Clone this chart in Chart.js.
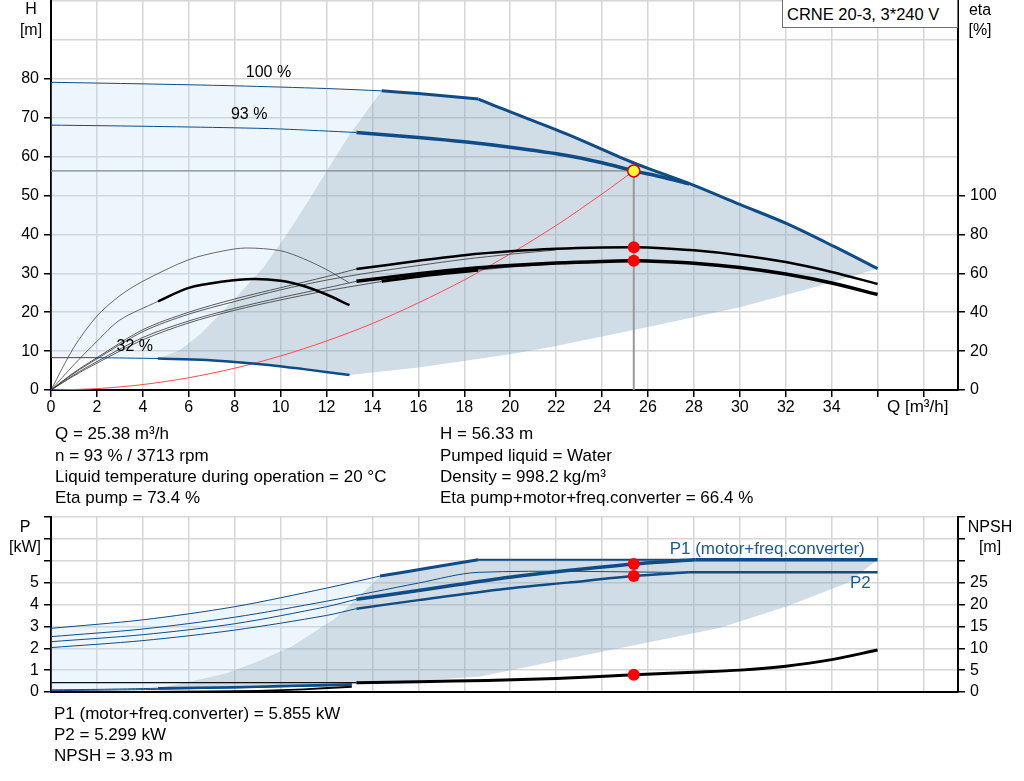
<!DOCTYPE html>
<html>
<head>
<meta charset="utf-8">
<script src="https://cdn.jsdelivr.net/npm/chart.js@4.4.1/dist/chart.umd.min.js"></script>
<style>
  html, body { margin: 0; padding: 0; background: #fff; }
  body { width: 1024px; height: 781px; position: relative; overflow: hidden;
         font-family: "Liberation Sans", Arial, sans-serif; font-size: 16px; color: #000; }
  canvas { position: absolute; left: 0; }
  #top { top: 0; }
  #bottom { top: 510px; }
  .t { position: absolute; white-space: nowrap; line-height: 18px; }
  .i { font-size: 17px; }
  .c { transform: translateX(-50%); }
  #box { position: absolute; left: 782px; top: 0; width: 174px; height: 27px;
         border: 1px solid #707070; border-top: none; background: #fff; }
</style>
</head>
<body>
<canvas id="top" width="1024" height="425"></canvas>
<canvas id="bottom" width="1024" height="200"></canvas>

<div id="box"></div>
<div class="t" style="left:787px;top:5px;font-size:16.5px">CRNE 20-3, 3*240 V</div>

<div class="t c" style="left:31px;top:0px">H</div>
<div class="t c" style="left:31px;top:21px">[m]</div>
<div class="t c" style="left:980px;top:1px">eta</div>
<div class="t c" style="left:980px;top:21px">[%]</div>
<div class="t i" style="left:887px;top:398px">Q [m³/h]</div>

<div class="t i" style="left:55px;top:425px">Q = 25.38 m³/h</div>
<div class="t i" style="left:55px;top:447px">n = 93 % / 3713 rpm</div>
<div class="t i" style="left:55px;top:468px">Liquid temperature during operation = 20 °C</div>
<div class="t i" style="left:55px;top:489px">Eta pump = 73.4 %</div>
<div class="t i" style="left:440px;top:425px">H = 56.33 m</div>
<div class="t i" style="left:440px;top:447px">Pumped liquid = Water</div>
<div class="t i" style="left:440px;top:468px">Density = 998.2 kg/m³</div>
<div class="t i" style="left:440px;top:489px">Eta pump+motor+freq.converter = 66.4 %</div>

<div class="t c" style="left:25px;top:518px">P</div>
<div class="t c" style="left:25px;top:538px">[kW]</div>
<div class="t c" style="left:990px;top:518px">NPSH</div>
<div class="t c" style="left:990px;top:538px">[m]</div>

<div class="t i" style="left:54px;top:705px">P1 (motor+freq.converter) = 5.855 kW</div>
<div class="t i" style="left:54px;top:726px">P2 = 5.299 kW</div>
<div class="t i" style="left:54px;top:747px">NPSH = 3.93 m</div>

<script>
// ticks
const qTicks = [0, 2, 4, 6, 8, 10, 12, 14, 16, 18, 20, 22, 24, 26, 28, 30, 32, 34, 36, 38];
const hTicks = [0, 10, 20, 30, 40, 50, 60, 70, 80, 90, 100];
const etaTicks = [0, 20, 40, 60, 80, 100];
const pTicks = [0, 1, 2, 3, 4, 5, 6, 7, 8];
const npshTicks = [0, 5, 10, 15, 20, 25, 30, 35, 40];

// duty point
const dutyQ = 25.38, dutyH = 56.33;
const dutyEtaPump = 73.4, dutyEtaTotal = 66.4;
const dutyP1 = 5.855, dutyP2 = 5.299, dutyNpsh = 3.93;

// Q-H curves [Q, H]
const h100Thin = [[0, 79.1], [4, 78.7], [8, 78.2], [12, 77.5], [14.4, 76.9]];
const h100Thick = [[14.4, 76.9], [16, 76.2], [18.62, 74.8]];
const hMaxPower = [[18.62, 74.8], [19.56, 72.5], [22.47, 65.8], [25.38, 58.4], [28, 52.6], [30, 47.7], [32.07, 42.7], [34.1, 36.9], [36, 31.2]];
const h93Thin = [[0, 68.1], [4, 67.8], [8, 67.4], [10, 67.1], [13.3, 66.2]];
const h93Thick = [[13.3, 66.2], [16, 64.9], [18, 63.8], [20, 62.4], [22.47, 60.3], [24, 58.4], [25.38, 56.33], [26.5, 54.9], [27.8, 53.0]];
const h32Thin = [[0, 8.3], [2, 8.3], [4.66, 8.1]];
const h32Thick = [[4.66, 8.1], [6.77, 7.7], [8.8, 6.8], [11.1, 5.3], [13, 3.85]];
const greyLeft = [[4.66, 8.1], [5.6, 10.2], [6.5, 14.3], [7.9, 22.8], [9.24, 31.4], [10.26, 39.9], [11.2, 48.5], [12.08, 57], [13, 65.6], [14.4, 76.9]];
const greyBottom = [[13, 3.85], [16, 5.8], [20, 9.2], [22, 11.3], [26, 16.2], [30, 21.3], [33, 26], [36, 31.2]];
const sysCurve = [[0, 0], [2, 0.35], [4, 1.4], [6, 3.15], [8, 5.6], [10, 8.75], [12, 12.6], [14, 17.1], [16, 22.4], [18, 28.3], [20, 35], [22, 42.3], [24, 50.4], [25.38, 56.33]];

// efficiency curves [Q, eta %]
const etaPump93Thin = [[0, 0], [1, 9], [2, 16.6], [4, 31], [6, 40], [8, 46.8], [10, 52.6], [12, 58.3], [13.3, 62.2]];
const etaPump93 = [[13.3, 62.2], [16, 66.4], [18, 69.3], [20, 71.3], [22, 72.6], [24, 73.3], [25.38, 73.4], [26, 73.3], [28, 71.8], [30, 69.3], [32, 65.8], [34, 60.7], [36, 54.5]];
const etaPump100Thin = [[0, 0], [1, 8.6], [2, 16], [4, 30], [6, 39], [8, 45.5], [10, 51.5], [12, 56.5], [14, 60.5], [16, 64], [18, 67.2], [20, 69.8], [22, 72]];
const etaTot93Thin = [[0, 0], [1, 7.8], [2, 14.6], [4, 27], [6, 35.5], [8, 42], [10, 47.5], [12, 52.5], [13.3, 55.9]];
const etaTot93 = [[13.3, 55.9], [16, 59.8], [18, 62.2], [20, 64.0], [22, 65.3], [24, 66.1], [25.38, 66.4], [26, 66.3], [28, 65.2], [30, 63.0], [32, 59.6], [34, 55.0], [36, 49.1]];
const etaTot100Thin = [[0, 0], [1, 7.3], [2, 13.8], [4, 25.8], [6, 34.5], [8, 41], [10, 46.3], [12, 51], [14.4, 55.8]];
const etaTot100 = [[14.4, 55.8], [16, 58.4], [18.6, 61.6]];
const etaTot100End = [[18.6, 61.6], [20, 63.2], [22, 64.8]];
const etaPump32 = [[0, 0], [1, 22], [2, 38], [3, 48.5], [4, 55.9], [6, 67], [7.5, 71.5], [8.5, 73], [10, 71.6], [11, 67.5], [12, 61.9], [13, 55]];
const etaTot32Thin = [[0, 0], [1, 13], [2, 25], [3, 36], [4.66, 45.6]];
const etaTot32 = [[4.66, 45.6], [6, 52.5], [7.5, 55.8], [8.8, 57.1], [10, 56.2], [11, 53.5], [12, 49.1], [13, 43.6]];

// power curves [Q, P kW]
const p1_100Thin = [[0, 2.91], [4, 3.3], [8, 3.9], [12, 4.75], [14.33, 5.3]];
const p1_100Thick = [[14.33, 5.3], [16.5, 5.68], [18.6, 6.05]];
const p1Max = [[18.6, 6.05], [28.06, 6.05]];
const p1MaxEnd = [[28.06, 6.05], [36, 6.05]];
const p2_100Thin = [[0, 2.53], [4, 2.88], [8, 3.42], [12, 4.15], [16, 4.98], [18.6, 5.47], [27.75, 5.47]];
const p2MaxEnd = [[27.75, 5.47], [36, 5.47]];
const p1_93Thin = [[0, 2.3], [4, 2.62], [8, 3.12], [12, 3.9], [13.3, 4.24]];
const p1_93 = [[13.3, 4.24], [16, 4.64], [19.5, 5.18], [22.5, 5.55], [25.38, 5.855], [28.06, 6.05]];
const p2_93Thin = [[0, 2.03], [4, 2.35], [8, 2.83], [12, 3.5], [13.3, 3.81]];
const p2_93 = [[13.3, 3.81], [16, 4.2], [19.56, 4.69], [22.5, 5.0], [25.38, 5.299], [27.75, 5.47]];
const p1_32Thin = [[0, 0.1], [2, 0.12], [4.66, 0.17]];
const p1_32Thick = [[4.66, 0.17], [8, 0.22], [10, 0.27], [13.1, 0.35]];
const p2_32 = [[0, 0.06], [4.66, 0.12], [13.1, 0.3]];
const pGreyLeft = [[4.66, 0.17], [5.9, 0.43], [7.65, 0.86], [9, 1.4], [10.5, 2.09], [12.3, 3.32], [13.3, 4.24], [14.33, 5.3]];
const pGreyBottom = [[13.1, 0.35], [16, 0.52], [18.7, 0.71], [22, 1.42], [25.4, 2.14], [29.1, 2.93], [32, 3.9], [34.7, 5.0], [36, 6.05]];

// NPSH curves [Q, NPSH m]
const npsh93Flat = [[0, 2.13], [13.3, 2.13]];
const npsh93 = [[13.3, 2.13], [16, 2.35], [19, 2.65], [22, 3.1], [25.38, 3.93], [28, 4.5], [30, 5.0], [32, 5.9], [34, 7.4], [36, 9.6]];
const npsh32 = [[0, 0], [4, 0.02], [7, 0.1], [9, 0.25], [11, 0.6], [13.1, 1.2]];

// text labels at data positions [text, Q, value]
const topLabels = [['100 %', 9.47, 81.7], ['93 %', 8.63, 70.9], ['32 %', 3.65, 11.2]];
const bottomLabels = [['P1 (motor+freq.converter)', 35.44, 6.54], ['P2', 35.7, 4.95]];

const BLUE = '#0f4c86';
const FONT = '"Liberation Sans", Arial, sans-serif';
Chart.defaults.font.family = FONT;
Chart.defaults.font.size = 16;
Chart.defaults.color = '#000';

const rev = a => a.slice().reverse();
const pts = a => a.map(p => ({ x: p[0], y: p[1] }));

function line(data, color, width, axis, order) {
  return { data: pts(data), borderColor: color, borderWidth: width, yAxisID: axis,
           pointRadius: 0, fill: false, tension: 0.3, order: order };
}
function shape(data, color, axis, order) {
  return { data: pts(data), borderWidth: 0, borderColor: 'rgba(0,0,0,0)', backgroundColor: color,
           yAxisID: axis, pointRadius: 0, fill: 'shape', tension: 0, order: order };
}
function dot(q, v, axis, fillColor, border, r) {
  return { data: [{ x: q, y: v }], showLine: false, yAxisID: axis, pointRadius: r,
           pointBackgroundColor: fillColor, pointBorderColor: border || fillColor,
           pointBorderWidth: border ? 1.5 : 0, order: 0 };
}

const LIGHT = 'rgba(187,219,247,0.25)';
const GREY = 'rgba(138,168,193,0.4)';

const greyTop = [...greyLeft, ...h100Thick.slice(1), ...hMaxPower.slice(1), ...rev(greyBottom).slice(1), ...rev(h32Thick).slice(1)];
const lightTop = [...h100Thin, ...rev(greyLeft).slice(1), ...rev(h32Thin).slice(1)];
const greyBot = [...pGreyLeft, ...p1_100Thick.slice(1), ...p1Max.slice(1), ...p1MaxEnd.slice(1), ...rev(pGreyBottom).slice(1), ...rev(p1_32Thick).slice(1)];
const lightBot = [...p1_100Thin, ...rev(pGreyLeft).slice(1), ...rev(p1_32Thin).slice(1)];

// draws text labels at data coordinates
const labelPlugin = {
  id: 'dataLabels',
  afterDatasetsDraw(chart, args, opts) {
    const ctx = chart.ctx;
    const x = chart.scales.x;
    const y = chart.scales[opts.axis];
    ctx.save();
    ctx.font = opts.size + 'px ' + FONT;
    ctx.textBaseline = 'middle';
    ctx.fillStyle = opts.color;
    ctx.textAlign = opts.align;
    opts.items.forEach(it => ctx.fillText(it[0], x.getPixelForValue(it[1]), y.getPixelForValue(it[2])));
    ctx.restore();
  }
};

function fixTicks(arr) {
  return s => { s.ticks = arr.map(v => ({ value: v })); };
}
function xScale(showLabels, h) {
  return {
    type: 'linear', min: 0, max: 39.5,
    afterBuildTicks: fixTicks(qTicks),
    afterFit: s => { s.height = h; s.paddingLeft = 0; s.paddingRight = 0; },
    ticks: { display: showLabels, padding: 1, maxRotation: 0, autoSkip: false,
             callback: v => (v <= 34 ? v : '') },
    grid: { color: '#d6d6d6', lineWidth: 1.5, drawTicks: showLabels, tickLength: 7,
            tickColor: '#000', tickWidth: 1.5 },
    border: { color: '#000', width: 2 }
  };
}
function yScale(pos, min, max, arr, maxLabel, width, onArea, hideUpperTicks) {
  return {
    type: 'linear', position: pos, min: min, max: max,
    afterBuildTicks: fixTicks(arr),
    afterFit: s => { s.width = width; s.paddingTop = 0; s.paddingBottom = 0; },
    ticks: { padding: 5, autoSkip: false, callback: v => (v <= maxLabel ? v : '') },
    grid: { color: '#d6d6d6', lineWidth: 1.5, drawOnChartArea: onArea, tickLength: 7, tickWidth: 1.5,
            tickColor: c => (hideUpperTicks && c.tick && c.tick.value > maxLabel) ? 'rgba(0,0,0,0)' : '#000' },
    border: { color: '#000', width: 2 }
  };
}

const common = {
  responsive: false, animation: false,
  plugins: { legend: { display: false }, tooltip: { enabled: false } }
};

new Chart(document.getElementById('top'), {
  type: 'line',
  data: {
    datasets: [
      shape(lightTop, LIGHT, 'h', 100),
      shape(greyTop, GREY, 'h', 99),
      line([[0, dutyH], [dutyQ, dutyH]], '#858585', 1.2, 'h', 50),
      line([[dutyQ, dutyH], [dutyQ, 0]], '#9a9a9a', 2, 'h', 50),
      line(sysCurve, '#ff4a4a', 1, 'h', 40),
      line(etaPump32, '#444', 0.8, 'eta', 30),
      line(etaTot32Thin, '#444', 0.8, 'eta', 30),
      line(etaPump100Thin, '#333', 0.8, 'eta', 30),
      line(etaPump93Thin, '#333', 0.8, 'eta', 30),
      line(etaTot100Thin, '#333', 0.8, 'eta', 30),
      line(etaTot93Thin, '#333', 0.8, 'eta', 30),
      line(etaTot100End, '#333', 0.8, 'eta', 30),
      line(etaTot32, '#000', 2.5, 'eta', 20),
      line(etaTot100, '#000', 3, 'eta', 20),
      line(etaPump93, '#000', 2.5, 'eta', 20),
      line(etaTot93, '#000', 3.5, 'eta', 20),
      line(h100Thin, BLUE, 1, 'h', 30),
      line(h93Thin, BLUE, 1, 'h', 30),
      line(h32Thin, BLUE, 1, 'h', 30),
      line(h100Thick, BLUE, 3, 'h', 20),
      line(hMaxPower, BLUE, 3, 'h', 20),
      line(h93Thick, BLUE, 3.5, 'h', 20),
      line(h32Thick, BLUE, 2.5, 'h', 20),
      dot(dutyQ, dutyEtaPump, 'eta', '#ff0000', null, 6),
      dot(dutyQ, dutyEtaTotal, 'eta', '#ff0000', null, 6),
      dot(dutyQ, dutyH, 'h', '#ffff33', '#e00000', 6)
    ]
  },
  options: Object.assign({}, common, {
    layout: { autoPadding: false, padding: { top: 1, left: 0, right: 0, bottom: 0 } },
    scales: {
      x: xScale(true, 35),
      h: yScale('left', 0, 100, hTicks, 80, 51, true, true),
      eta: yScale('right', 0, 200, etaTicks, 100, 66, false, false)
    },
    plugins: Object.assign({}, common.plugins,
      { dataLabels: { axis: 'h', color: '#000', align: 'center', size: 16, items: topLabels } })
  }),
  plugins: [labelPlugin]
});

new Chart(document.getElementById('bottom'), {
  type: 'line',
  data: {
    datasets: [
      shape(lightBot, LIGHT, 'p', 100),
      shape(greyBot, GREY, 'p', 99),
      line(p2_32, BLUE, 1, 'p', 30),
      line(p1_32Thin, BLUE, 1, 'p', 30),
      line(p1_100Thin, BLUE, 1, 'p', 30),
      line(p2_100Thin, BLUE, 1, 'p', 30),
      line(p1_93Thin, BLUE, 1, 'p', 30),
      line(p2_93Thin, BLUE, 1, 'p', 30),
      line(p1Max, BLUE, 2, 'p', 25),
      line(npsh93Flat, '#111', 1.2, 'npsh', 25),
      line(npsh32, '#000', 2, 'npsh', 22),
      line(p1_32Thick, BLUE, 2.5, 'p', 20),
      line(p1_100Thick, BLUE, 3, 'p', 20),
      line(p1MaxEnd, BLUE, 3.5, 'p', 20),
      line(p2MaxEnd, BLUE, 2.5, 'p', 20),
      line(p1_93, BLUE, 3.5, 'p', 20),
      line(p2_93, BLUE, 2.5, 'p', 20),
      line(npsh93, '#000', 3, 'npsh', 20),
      dot(dutyQ, dutyP1, 'p', '#ff0000', null, 6),
      dot(dutyQ, dutyP2, 'p', '#ff0000', null, 6),
      dot(dutyQ, dutyNpsh, 'npsh', '#ff0000', null, 6)
    ]
  },
  options: Object.assign({}, common, {
    layout: { autoPadding: false, padding: { top: 7, left: 0, right: 0, bottom: 18 } },
    scales: {
      x: xScale(false, 0),
      p: yScale('left', 0, 8, pTicks, 5, 51, true, false),
      npsh: yScale('right', 0, 40, npshTicks, 25, 66, false, false)
    },
    plugins: Object.assign({}, common.plugins,
      { dataLabels: { axis: 'p', color: '#1b5a96', align: 'right', size: 17, items: bottomLabels } })
  }),
  plugins: [labelPlugin]
});
</script>
</body>
</html>
